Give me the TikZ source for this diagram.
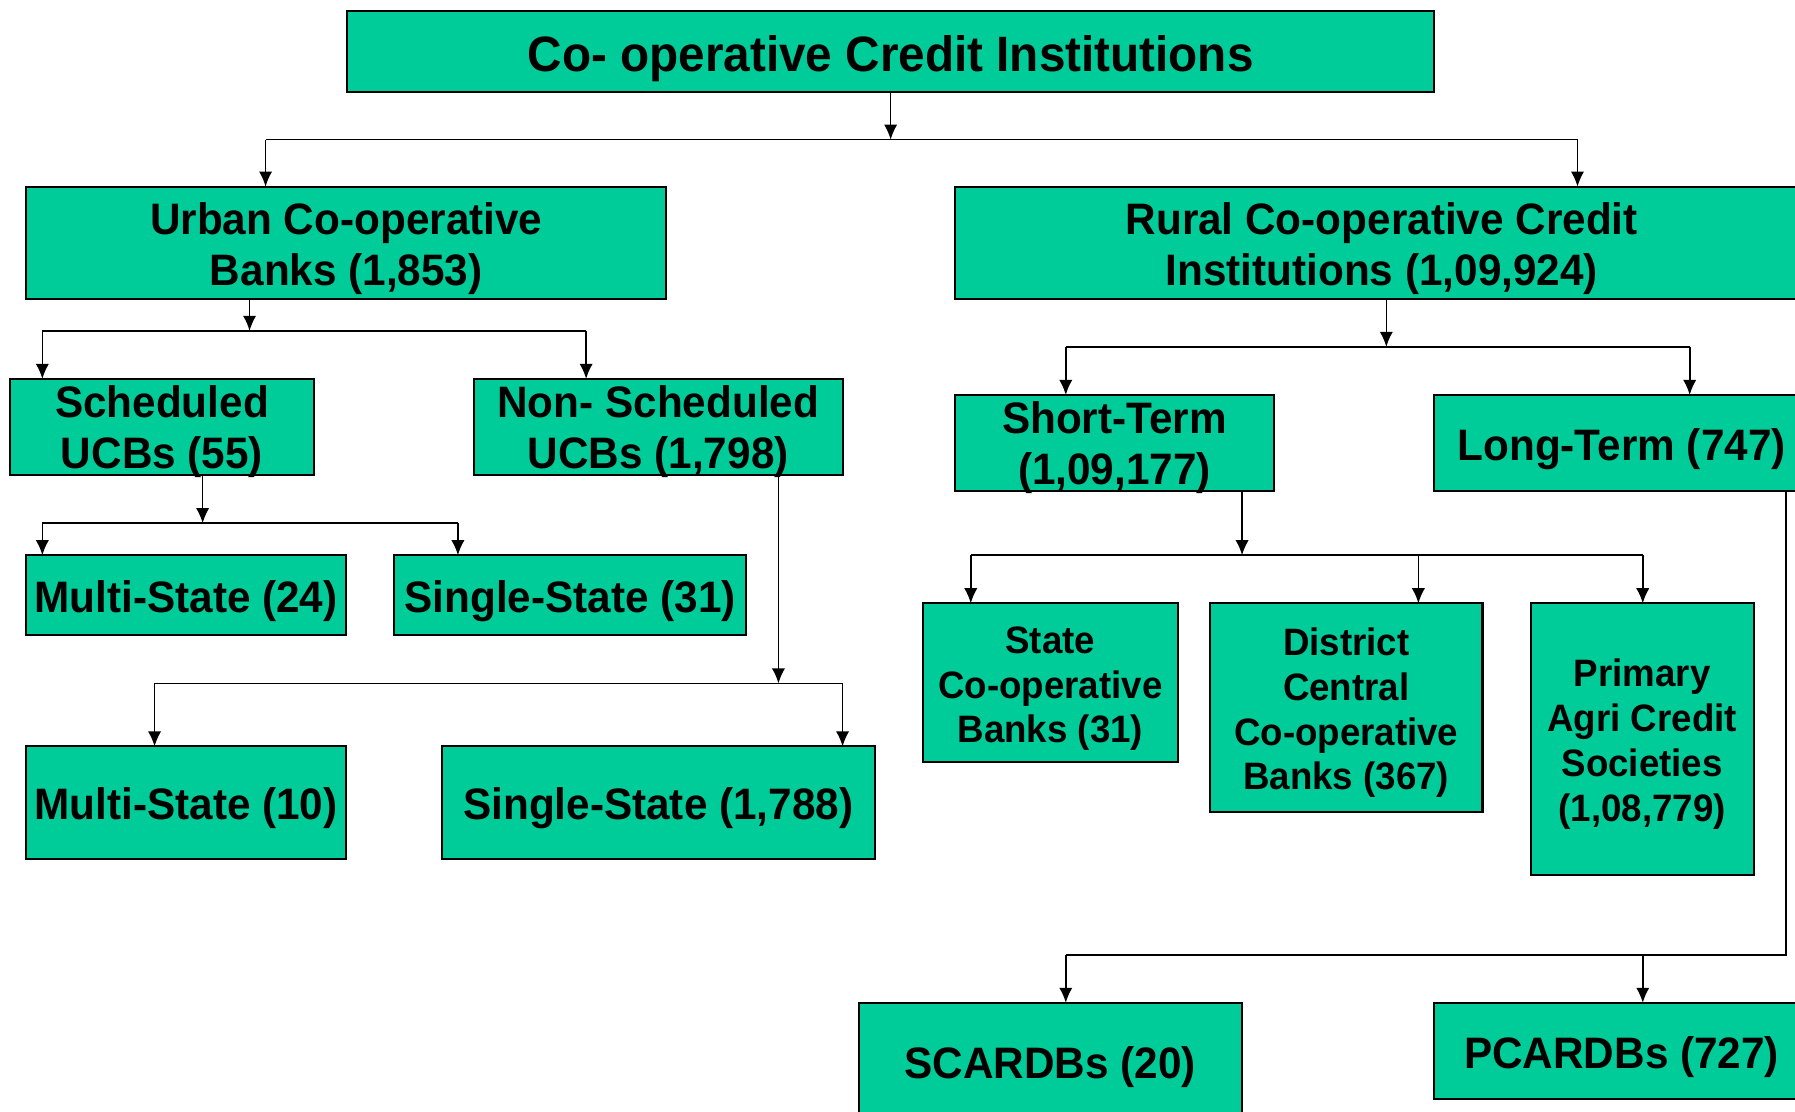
\documentclass[tikz,border=0pt]{standalone}
\usepackage{fontspec}
\setmainfont[FakeStretch=0.96]{Liberation Sans}
\usetikzlibrary{arrows.meta}
\definecolor{coopgreen}{RGB}{0,204,153}
\tikzset{
  blk/.style={draw=black, line width=1pt, fill=coopgreen, anchor=north west,
    inner sep=0pt, outer sep=0pt, align=center,
    execute at begin node={\rule{0pt}{1em}},
    font=\bfseries\fontsize{21.9}{25.5}\selectfont},
  blksmall/.style={blk, font=\bfseries\fontsize{19}{22.3}\selectfont},
  wh/.style 2 args={minimum width=#1*0.02cm, minimum height=#2*0.02cm},
  wire/.style={line width=0.8pt},
  feed/.style={wire, -{Latex[length=7.5pt,width=6.6pt]}}
}

\begin{document}
\begin{tikzpicture}[x=0.02cm, y=-0.02cm]
    \useasboundingbox (0,0) rectangle (1568,971);

    % Boxes (struts push the text a little lower, smashed lines may run over the border)
    \node[blk, wh={950}{70}, font=\bfseries\fontsize{24.7}{29}\selectfont] (coi) at (303,10) {Co- operative Credit Institutions};
    \node[blk, wh={559}{98}] (ucb) at (23,163) {\rule{0pt}{1em}Urban Co-operative\\Banks (1,853)};
    \node[blk, wh={746}{98}] (rcci) at (834,163) {\rule{0pt}{1em}Rural Co-operative Credit\\Institutions (1,09,924)};
    \node[blk, wh={265}{84}] (sch) at (9,331) {Scheduled\\\smash{UCBs (55)}};
    \node[blk, wh={322}{84}] (nsch) at (414,331) {Non- Scheduled\\\smash{UCBs (1,798)}};
    \node[blk, wh={279}{84}] (st) at (834,345) {Short-Term\\\smash{(1,09,177)}};
    \node[blk, wh={327}{84}] (lt) at (1253,345) {Long-Term (747)};
    \node[blk, wh={279}{70}] (ms24) at (23,485) {Multi-State (24)};
    \node[blk, wh={308}{70}] (ss31) at (344,485) {Single-State (31)};
    \node[blk, wh={279}{98}] (ms10) at (23,652) {Multi-State (10)};
    \node[blk, wh={378}{98}] (ss1788) at (386,652) {Single-State (1,788)};
    \node[blksmall, wh={223}{139}] (stcb) at (806,527) {\rule{0pt}{1em}State\\Co-operative\\Banks (31)};
    \node[blksmall, wh={238}{182}] (dccb) at (1057,527) {\rule{0pt}{1em}District\\Central\\Co-operative\\Banks (367)};
    \node[blksmall, wh={195}{237}] (pacs) at (1337,527) {\rule{0pt}{1em}Primary\\Agri Credit\\Societies\\(1,08,779)};
    \node[blk, wh={335}{102}] (scardb) at (750,876) {SCARDBs (20)};
    \node[blk, wh={327}{84}] (pcardb) at (1253,876) {PCARDBs (727)};

    % Bus junctions
    \coordinate (j1) at (778,122);  \coordinate (j1l) at (232,122);  \coordinate (j1r) at (1378,122);
    \coordinate (j2) at (218,289);  \coordinate (j2l) at (37,289);   \coordinate (j2r) at (512,289);
    \coordinate (j3) at (177,457);  \coordinate (j3l) at (37,457);   \coordinate (j3r) at (400,457);
    \coordinate (j4) at (680,597);  \coordinate (j4l) at (135,597);  \coordinate (j4r) at (736,597);
    \coordinate (j5) at (1211,303); \coordinate (j5l) at (931,303);  \coordinate (j5r) at (1476,303);
    \coordinate (j6) at (1085,485); \coordinate (j6l) at (848,485);  \coordinate (j6m) at (1239,485); \coordinate (j6r) at (1435,485);
    \coordinate (j7) at (1560,834); \coordinate (j7l) at (931,834);  \coordinate (j7m) at (1435,834);

    % Top level
    \draw[feed] (coi.south) -- (j1);
    \draw[wire] (j1l) -- (j1r);
    \draw[feed] (j1l) -- (j1l |- ucb.north);
    \draw[feed] (j1r) -- (j1r |- rcci.north);

    % Urban side
    \draw[feed] (j2 |- ucb.south) -- (j2);
    \draw[wire] (j2l) -- (j2r);
    \draw[feed] (j2l) -- (j2l |- sch.north);
    \draw[feed] (j2r) -- (j2r |- nsch.north);

    \draw[feed] (j3 |- sch.south) -- (j3);
    \draw[wire] (j3l) -- (j3r);
    \draw[feed] (j3l) -- (j3l |- ms24.north);
    \draw[feed] (j3r) -- (j3r |- ss31.north);

    \draw[feed] (j4 |- nsch.south) -- (j4);
    \draw[wire] (j4l) -- (j4r);
    \draw[feed] (j4l) -- (j4l |- ms10.north);
    \draw[feed] (j4r) -- (j4r |- ss1788.north);

    % Rural side
    \draw[feed] (j5 |- rcci.south) -- (j5);
    \draw[wire] (j5l) -- (j5r);
    \draw[feed] (j5l) -- (j5l |- st.north);
    \draw[feed] (j5r) -- (j5r |- lt.north);

    \draw[feed] (j6 |- st.south) -- (j6);
    \draw[wire] (j6l) -- (j6r);
    \draw[feed] (j6l) -- (j6l |- stcb.north);
    \draw[feed] (j6m) -- (j6m |- dccb.north);
    \draw[feed] (j6r) -- (j6r |- pacs.north);

    % long-term runs down the right edge
    \draw[wire] (j7 |- lt.south) -- (j7) -- (j7l);
    \draw[feed] (j7l) -- (j7l |- scardb.north);
    \draw[feed] (j7m) -- (j7m |- pcardb.north);

\end{tikzpicture}
\end{document}
